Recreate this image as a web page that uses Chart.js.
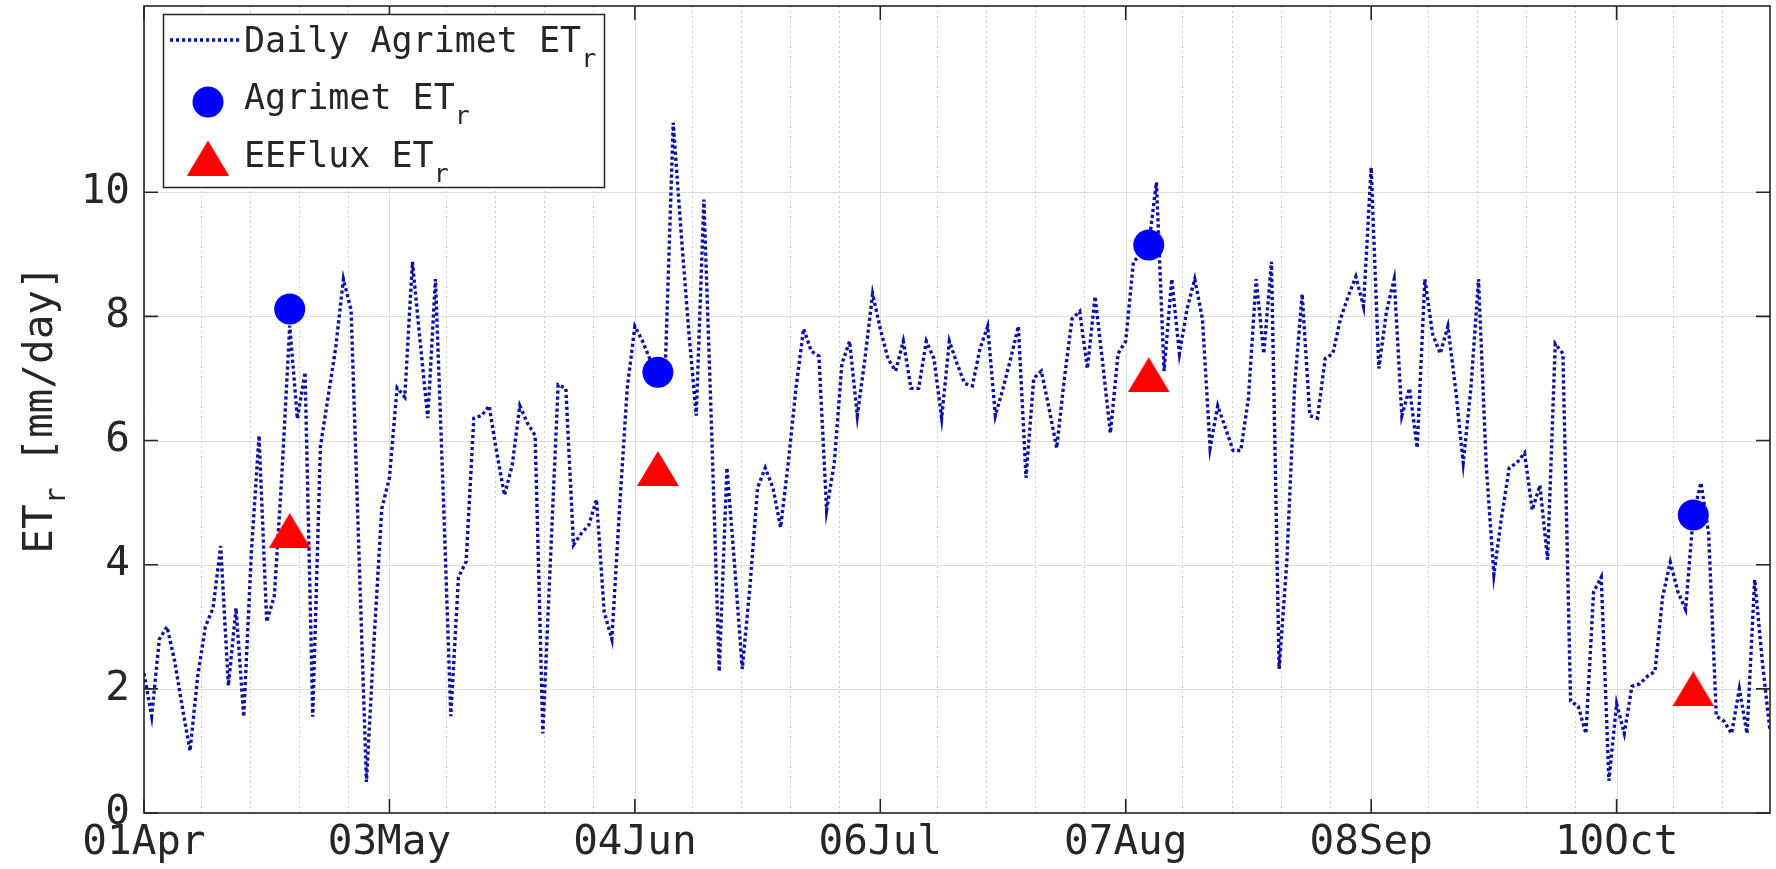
<!DOCTYPE html>
<html>
<head>
<meta charset="utf-8">
<script src="https://cdn.jsdelivr.net/npm/chart.js@4.4.0/dist/chart.umd.min.js"></script>
<style>
  html, body { margin: 0; padding: 0; background: #fff; }
  #wrap { width: 1776px; height: 869px; }
</style>
</head>
<body>
<div id="wrap"><canvas id="etChart" width="1776" height="869"></canvas></div>
<script>
// Daily Agrimet ETr [mm/day], one value per day, day 0 = 01Apr ... day 212 = 30Oct
const dailyAgrimetEt = [
  2.25, 1.56, 2.8, 3.0, 2.45, 1.7, 1.0, 2.2, 3.0, 3.3,
  4.3, 2.05, 3.3, 1.55, 4.2, 6.08, 3.08, 3.5, 5.5, 7.85,
  6.35, 7.1, 1.55, 5.9, 6.7, 7.5, 8.6, 8.1, 4.3, 0.5,
  2.8, 4.9, 5.4, 6.85, 6.7, 8.88, 7.6, 6.36, 8.6, 5.2,
  1.56, 3.8, 4.05, 6.36, 6.4, 6.56, 5.8, 5.12, 5.6, 6.56,
  6.28, 6.08, 1.28, 4.1, 6.9, 6.84, 4.32, 4.5, 4.64, 5.05,
  3.24, 2.8, 4.9, 6.84, 7.84, 7.6, 7.3, 7.15, 7.3, 11.12,
  9.4, 7.8, 6.4, 9.88, 6.2, 2.28, 5.56, 4.0, 2.32, 3.64,
  5.24, 5.56, 5.24, 4.6, 5.64, 6.84, 7.8, 7.44, 7.36, 4.88,
  5.64, 7.24, 7.6, 6.4, 7.32, 8.36, 7.8, 7.32, 7.12, 7.6,
  6.84, 6.84, 7.6, 7.32, 6.36, 7.6, 7.24, 6.92, 6.88, 7.48,
  7.84, 6.4, 6.84, 7.32, 7.84, 5.4, 7.0, 7.12, 6.52, 5.88,
  7.0, 7.96, 8.08, 7.16, 8.32, 7.24, 6.12, 7.4, 7.6, 8.88,
  9.0, 9.15, 10.16, 7.12, 8.6, 7.4, 8.12, 8.6, 7.96, 5.88,
  6.56, 6.2, 5.84, 5.84, 6.68, 8.6, 7.4, 8.88, 2.32, 4.04,
  6.84, 8.36, 6.4, 6.36, 7.32, 7.4, 7.96, 8.32, 8.64, 8.16,
  10.4, 7.16, 8.08, 8.6, 6.4, 6.84, 5.88, 8.6, 7.72, 7.4,
  7.84, 6.84, 5.64, 6.84, 8.6, 5.6, 3.84, 4.76, 5.56, 5.64,
  5.8, 4.88, 5.28, 4.08, 7.56, 7.4, 1.8, 1.72, 1.28, 3.56,
  3.8, 0.52, 1.76, 1.28, 2.04, 2.08, 2.2, 2.28, 3.48, 4.04,
  3.56, 3.28, 4.8, 5.32, 4.5, 1.56, 1.48, 1.28, 2.0, 1.28,
  3.76, 2.44, 1.32
];

// Landsat overpass days (days after 01Apr) and the two ETr estimates
const overpassDays = [19, 67, 131, 202];
const agrimetEt = [8.12, 7.1, 9.15, 4.8];
const eefluxEt = [4.55, 5.55, 7.06, 2.0];

// axis ticks
const tickDays = [0, 32, 64, 96, 128, 160, 192];
const tickLabels = ['01Apr', '03May', '04Jun', '06Jul', '07Aug', '08Sep', '10Oct'];
const yTicks = [0, 2, 4, 6, 8, 10];
const minorOffsets = [7.4, 13.8, 20.2, 26.6];

const ink = '#262626';
const lineBlue = '#1010a0';
const mono = "'DejaVu Sans Mono', monospace";
const fontSize = 41;

// red triangle marker, centred on its bounding box like MATLAB's '^'
function triangleMarker(w, h, color) {
  const c = document.createElement('canvas');
  c.width = w;
  c.height = h;
  const g = c.getContext('2d');
  g.fillStyle = color;
  g.beginPath();
  g.moveTo(w / 2, 0);
  g.lineTo(w, h);
  g.lineTo(0, h);
  g.closePath();
  g.fill();
  return c;
}
const triMarker = triangleMarker(42, 35, '#ff0000');

// text with a subscript, returns total width
function subText(ctx, x, y, main, sub, size, subSize, drop) {
  ctx.font = size + 'px ' + mono;
  ctx.fillText(main, x, y);
  const w = ctx.measureText(main).width;
  ctx.font = subSize + 'px ' + mono;
  ctx.fillText(sub, x + w, y + drop);
  return w + ctx.measureText(sub).width;
}

const matlabAxes = {
  id: 'matlabAxes',
  beforeDatasetsDraw(chart) {
    const { ctx, chartArea: a, scales: { x, y } } = chart;
    ctx.save();
    // minor grid (dotted)
    ctx.strokeStyle = '#cfcfcf';
    ctx.lineWidth = 1;
    ctx.setLineDash([2, 3]);
    tickDays.forEach(d => {
      minorOffsets.forEach(o => {
        const v = d + o;
        if (v >= x.max) return;
        const px = Math.round(x.getPixelForValue(v)) + 0.5;
        ctx.beginPath();
        ctx.moveTo(px, a.top);
        ctx.lineTo(px, a.bottom);
        ctx.stroke();
      });
    });
    // major grid
    ctx.setLineDash([]);
    ctx.strokeStyle = '#dcdcdc';
    tickDays.forEach(d => {
      const px = Math.round(x.getPixelForValue(d)) + 0.5;
      ctx.beginPath();
      ctx.moveTo(px, a.top);
      ctx.lineTo(px, a.bottom);
      ctx.stroke();
    });
    yTicks.forEach(v => {
      const py = Math.round(y.getPixelForValue(v)) + 0.5;
      ctx.beginPath();
      ctx.moveTo(a.left, py);
      ctx.lineTo(a.right, py);
      ctx.stroke();
    });
    ctx.restore();
  },
  afterDatasetsDraw(chart) {
    const { ctx, chartArea: a, scales: { x, y } } = chart;
    ctx.save();
    ctx.strokeStyle = ink;
    ctx.lineWidth = 1.6;
    ctx.strokeRect(a.left, a.top, a.right - a.left, a.bottom - a.top);
    const tl = 14;
    tickDays.forEach(d => {
      const px = x.getPixelForValue(d);
      ctx.beginPath();
      ctx.moveTo(px, a.bottom);
      ctx.lineTo(px, a.bottom - tl);
      ctx.moveTo(px, a.top);
      ctx.lineTo(px, a.top + tl);
      ctx.stroke();
    });
    yTicks.forEach(v => {
      const py = y.getPixelForValue(v);
      ctx.beginPath();
      ctx.moveTo(a.left, py);
      ctx.lineTo(a.left + tl, py);
      ctx.moveTo(a.right, py);
      ctx.lineTo(a.right - tl, py);
      ctx.stroke();
    });

    // y axis title: ET_r [mm/day]
    ctx.fillStyle = ink;
    ctx.textBaseline = 'alphabetic';
    ctx.font = fontSize + 'px ' + mono;
    const w1 = ctx.measureText('ET').width;
    const w3 = ctx.measureText(' [mm/day]').width;
    ctx.font = '28px ' + mono;
    const w2 = ctx.measureText('r').width;
    const total = w1 + w2 + w3;
    ctx.translate(52, (a.top + a.bottom) / 2 + total / 2);
    ctx.rotate(-Math.PI / 2);
    const ws = subText(ctx, 0, 0, 'ET', 'r', fontSize, 28, 13);
    ctx.font = fontSize + 'px ' + mono;
    ctx.fillText(' [mm/day]', ws, 0);
    ctx.restore();

    // legend
    ctx.save();
    const bx = 163, by = 14, bw = 441, bh = 173;
    ctx.fillStyle = '#ffffff';
    ctx.fillRect(bx, by, bw, bh);
    ctx.strokeStyle = ink;
    ctx.lineWidth = 1.5;
    ctx.strokeRect(bx + 0.5, by + 0.5, bw, bh);

    ctx.strokeStyle = lineBlue;
    ctx.lineWidth = 3.4;
    ctx.setLineDash([3.2, 2.8]);
    ctx.beginPath();
    ctx.moveTo(170, 40);
    ctx.lineTo(241, 40);
    ctx.stroke();
    ctx.setLineDash([]);

    ctx.fillStyle = '#0000ff';
    ctx.beginPath();
    ctx.arc(208, 102, 15.5, 0, Math.PI * 2);
    ctx.fill();
    ctx.drawImage(triMarker, 208 - triMarker.width / 2, 158 - triMarker.height / 2);

    ctx.fillStyle = ink;
    ctx.textBaseline = 'alphabetic';
    subText(ctx, 244, 52, 'Daily Agrimet ET', 'r', 35, 25, 15);
    subText(ctx, 244, 109, 'Agrimet ET', 'r', 35, 25, 15);
    subText(ctx, 244, 167, 'EEFlux ET', 'r', 35, 25, 15);
    ctx.restore();
  }
};

new Chart(document.getElementById('etChart'), {
  type: 'scatter',
  data: {
    datasets: [
      {
        label: 'Agrimet ETr',
        data: overpassDays.map((d, i) => ({ x: d, y: agrimetEt[i] })),
        pointStyle: 'circle',
        pointRadius: 15.5,
        backgroundColor: '#0000ff',
        borderWidth: 0
      },
      {
        label: 'EEFlux ETr',
        data: overpassDays.map((d, i) => ({ x: d, y: eefluxEt[i] })),
        pointStyle: triMarker,
        pointRadius: 21,
        backgroundColor: '#ff0000',
        borderWidth: 0
      },
      {
        label: 'Daily Agrimet ETr',
        data: dailyAgrimetEt.map((v, i) => ({ x: i, y: v })),
        showLine: true,
        borderColor: lineBlue,
        borderWidth: 3.4,
        borderDash: [3.2, 2.8],
        pointRadius: 0,
        tension: 0,
        fill: false
      }
    ]
  },
  options: {
    responsive: false,
    animation: false,
    devicePixelRatio: 1,
    layout: { autoPadding: false, padding: { left: 0, right: 6, top: 6, bottom: 0 } },
    plugins: {
      legend: { display: false },
      tooltip: { enabled: false }
    },
    scales: {
      x: {
        type: 'linear',
        min: 0,
        max: 212,
        afterBuildTicks: s => { s.ticks = tickDays.map(v => ({ value: v })); },
        afterFit: s => { s.height = 56; s.paddingLeft = 0; s.paddingRight = 0; },
        ticks: {
          callback: (v, i) => tickLabels[i],
          font: { family: mono, size: fontSize },
          color: ink,
          padding: 6,
          maxRotation: 0,
          autoSkip: false
        },
        grid: { display: false, drawTicks: false },
        border: { display: false }
      },
      y: {
        min: 0,
        max: 13,
        afterBuildTicks: s => { s.ticks = yTicks.map(v => ({ value: v })); },
        afterFit: s => { s.width = 144; s.paddingTop = 0; s.paddingBottom = 0; },
        ticks: {
          font: { family: mono, size: fontSize },
          color: ink,
          padding: 14
        },
        grid: { display: false, drawTicks: false },
        border: { display: false }
      }
    }
  },
  plugins: [matlabAxes]
});
</script>
</body>
</html>
